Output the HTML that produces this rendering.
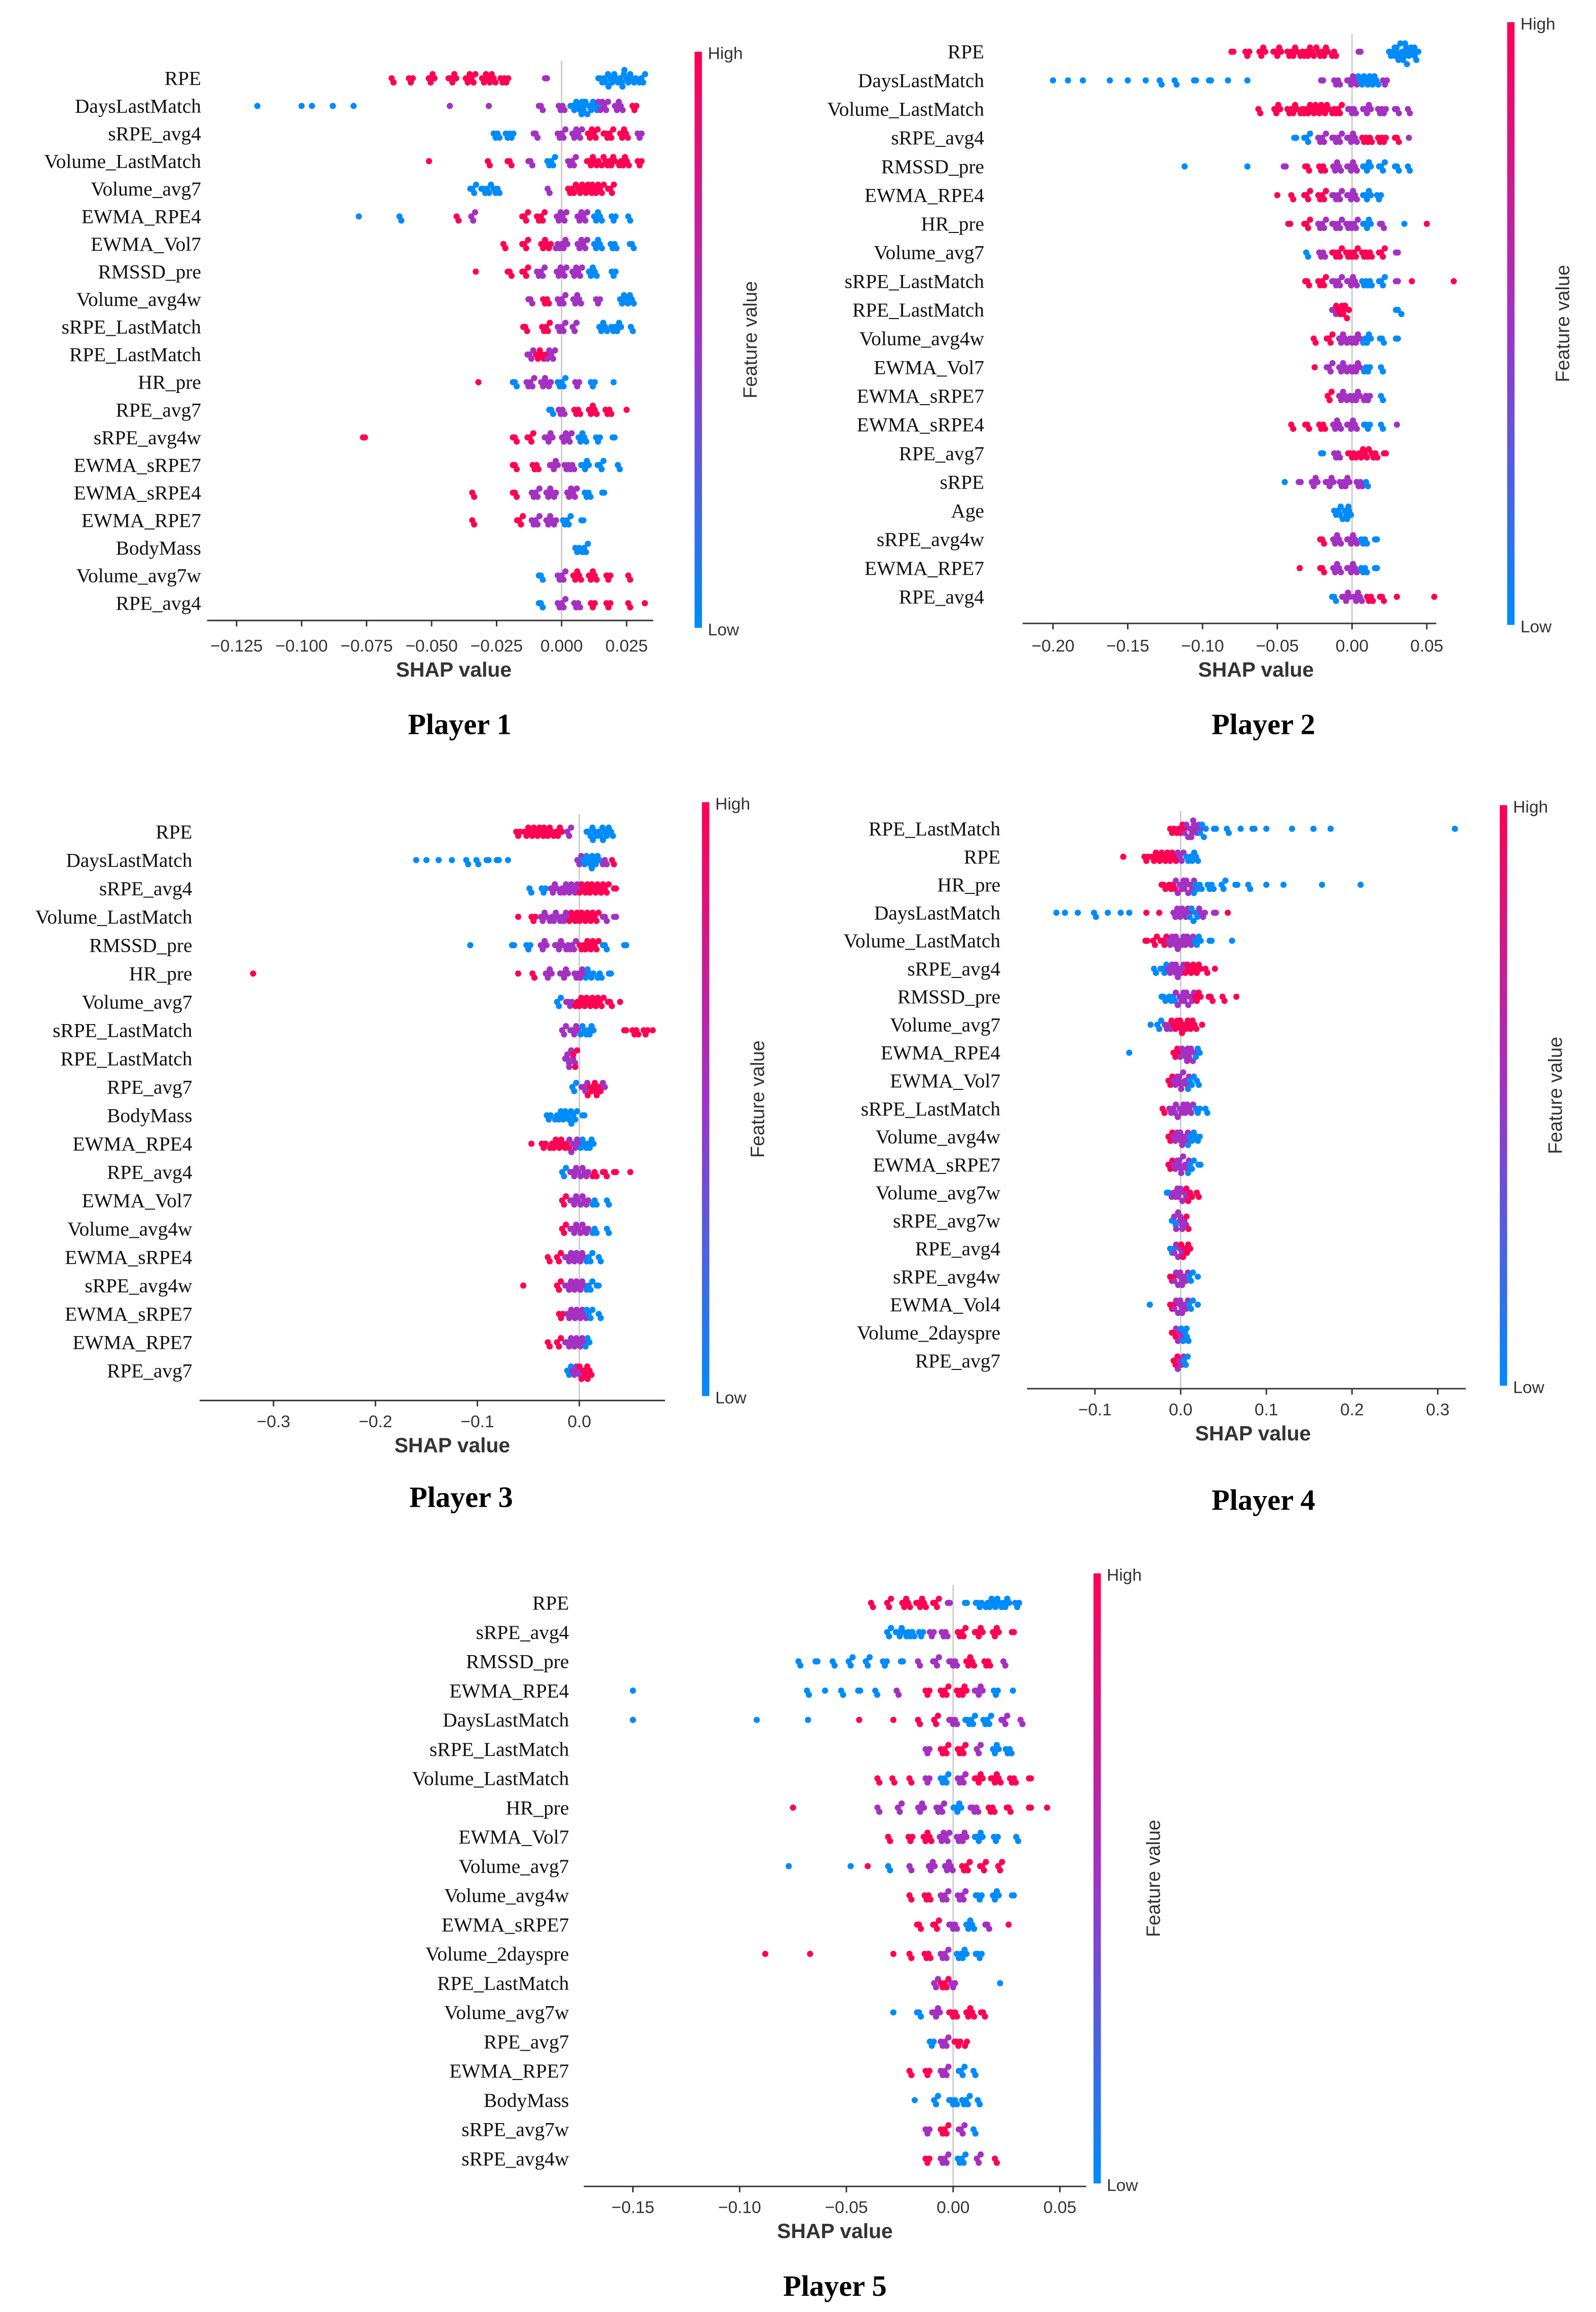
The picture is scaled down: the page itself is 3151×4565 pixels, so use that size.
<!DOCTYPE html>
<html><head><meta charset="utf-8">
<style>
html,body{margin:0;padding:0;background:#fff;}
svg{display:block;}
</style></head>
<body>
<svg id="fig" width="3151" height="4565" viewBox="0 0 1080 1565" xmlns="http://www.w3.org/2000/svg">
<defs>
<linearGradient id="cbar" x1="0" y1="0" x2="0" y2="1">
<stop offset="0" stop-color="#ff0052"/>
<stop offset="0.5" stop-color="#9e34c6"/>
<stop offset="1" stop-color="#008bfb"/>
</linearGradient>
</defs>
<rect width="1080" height="1565" fill="#fff"/>
</svg>
<script>
// ---------- DATA ----------
const p1Features = ["RPE","DaysLastMatch","sRPE_avg4","Volume_LastMatch","Volume_avg7","EWMA_RPE4","EWMA_Vol7","RMSSD_pre","Volume_avg4w","sRPE_LastMatch","RPE_LastMatch","HR_pre","RPE_avg7","sRPE_avg4w","EWMA_sRPE7","EWMA_sRPE4","EWMA_RPE7","BodyMass","Volume_avg7w","RPE_avg4"];
const p1Ticks = [-0.125,-0.1,-0.075,-0.05,-0.025,0,0.025];
const p1TickLabels = ["\u22120.125","\u22120.100","\u22120.075","\u22120.050","\u22120.025","0.000","0.025"];
const p1Values = [
"-0.065:r:2 -0.058:r:3 -0.05:r:4 -0.042:r:5 -0.035:r:6 -0.028:r:8 -0.022:r:5 -0.006:p:2 0.016:b:6 0.021:b:9 0.026:b:8 0.031:b:4",
"-0.117:b:1 -0.1:b:1 -0.096:b:1 -0.088:b:1 -0.08:b:1 -0.043:p:1 -0.028:p:1 -0.008:p:3 0.0:p:4 0.006:b:8 0.011:b:10 0.016:p:6 0.022:p:5 0.028:r:3",
"-0.025:b:4 -0.02:b:5 -0.01:p:3 0.0:p:5 0.006:p:6 0.012:r:6 0.018:r:6 0.024:r:5 0.03:p:3",
"-0.051:r:1 -0.028:r:2 -0.02:r:3 -0.012:p:3 -0.004:b:5 0.004:p:5 0.012:r:7 0.018:r:8 0.024:r:6 0.03:r:3",
"-0.034:b:4 -0.029:b:6 -0.025:b:4 -0.005:p:2 0.004:r:5 0.009:r:8 0.014:r:7 0.019:r:4",
"-0.078:b:1 -0.062:b:2 -0.04:r:2 -0.034:p:3 -0.014:r:4 -0.008:r:5 0.0:p:6 0.008:p:6 0.014:b:5 0.02:b:3 0.026:b:2",
"-0.022:r:2 -0.014:r:4 -0.006:r:6 0.0:p:7 0.008:p:6 0.014:b:5 0.02:b:4 0.027:b:3",
"-0.033:r:1 -0.02:r:3 -0.014:r:4 -0.008:p:5 0.0:p:6 0.006:p:6 0.012:b:5 0.02:b:3",
"-0.012:p:3 -0.006:r:4 0.0:p:5 0.006:p:5 0.014:p:3 0.024:b:5 0.027:b:3",
"-0.014:r:3 -0.006:r:5 0.0:p:5 0.005:p:3 0.016:b:5 0.021:b:6 0.027:b:2",
"-0.012:p:4 -0.008:r:6 -0.004:p:5",
"-0.032:r:1 -0.018:b:3 -0.012:p:5 -0.006:p:6 0.0:b:5 0.006:p:3 0.012:b:3 0.02:b:1",
"-0.004:b:3 0.0:p:4 0.006:r:4 0.012:r:5 0.018:r:4 0.025:r:1",
"-0.076:r:2 -0.018:r:3 -0.012:r:4 -0.005:p:5 0.002:p:6 0.008:b:5 0.014:b:3 0.02:b:2",
"-0.018:r:3 -0.01:r:4 -0.003:p:5 0.003:p:6 0.009:b:5 0.015:b:4 0.022:b:2",
"-0.034:r:2 -0.018:r:3 -0.01:p:5 -0.004:p:6 0.004:p:6 0.01:b:4 0.016:b:2",
"-0.034:r:2 -0.016:r:4 -0.01:p:5 -0.004:p:6 0.002:b:5 0.008:b:2",
"0.006:b:3 0.009:b:4",
"-0.008:b:3 0.0:p:5 0.006:r:5 0.012:r:5 0.018:r:3 0.026:r:2",
"-0.008:b:3 0.0:p:5 0.006:p:4 0.012:r:3 0.018:r:3 0.026:r:2 0.032:r:1"
];

const p2Features = ["RPE","DaysLastMatch","Volume_LastMatch","sRPE_avg4","RMSSD_pre","EWMA_RPE4","HR_pre","Volume_avg7","sRPE_LastMatch","RPE_LastMatch","Volume_avg4w","EWMA_Vol7","EWMA_sRPE7","EWMA_sRPE4","RPE_avg7","sRPE","Age","sRPE_avg4w","EWMA_RPE7","RPE_avg4"];
const p2Ticks = [-0.2,-0.15,-0.1,-0.05,0,0.05];
const p2TickLabels = ["\u22120.20","\u22120.15","\u22120.10","\u22120.05","0.00","0.05"];
const p2Values = [
"-0.08:r:2 -0.07:r:3 -0.06:r:4 -0.05:r:5 -0.04:r:6 -0.03:r:8 -0.02:r:7 -0.012:r:3 0.005:p:2 0.028:b:6 0.033:b:8 0.038:b:7 0.043:b:3",
"-0.2:b:1 -0.19:b:1 -0.18:b:1 -0.162:b:1 -0.15:b:1 -0.138:b:1 -0.128:b:2 -0.118:b:2 -0.105:b:2 -0.095:b:2 -0.083:b:1 -0.07:b:1 -0.02:p:2 -0.01:p:4 0.0:p:6 0.008:b:7 0.015:b:5 0.022:p:3",
"-0.062:r:2 -0.05:r:4 -0.04:r:6 -0.03:r:8 -0.02:r:8 -0.01:r:6 0.0:p:5 0.01:p:5 0.02:p:5 0.03:p:3 0.038:p:2",
"-0.038:b:2 -0.03:b:4 -0.02:p:5 -0.01:p:6 0.0:p:6 0.01:r:6 0.02:r:5 0.03:r:3 0.038:p:1",
"-0.112:b:1 -0.07:b:1 -0.045:p:2 -0.03:r:3 -0.02:r:4 -0.01:p:5 0.0:p:6 0.01:b:5 0.02:b:4 0.03:b:3 0.038:b:2",
"-0.05:r:1 -0.04:r:2 -0.03:r:4 -0.02:r:5 -0.01:p:6 0.0:p:6 0.01:b:5 0.018:b:3",
"-0.042:r:2 -0.03:r:4 -0.02:p:5 -0.01:p:6 0.0:p:7 0.01:b:5 0.02:p:3 0.035:b:1 0.05:r:1",
"-0.03:b:2 -0.02:p:4 -0.01:r:6 0.0:r:7 0.01:r:6 0.02:r:4 0.03:p:2",
"-0.03:r:3 -0.02:r:5 -0.01:p:6 0.0:p:6 0.01:b:6 0.02:b:4 0.03:p:2 0.04:r:1 0.068:r:1",
"-0.012:p:3 -0.008:r:5 -0.004:r:4 0.03:b:2 0.033:b:1",
"-0.025:r:2 -0.015:r:4 -0.006:p:5 0.002:p:6 0.01:b:5 0.02:b:3 0.03:b:2",
"-0.025:r:1 -0.015:p:4 -0.006:p:5 0.002:p:6 0.01:b:4 0.02:b:2",
"-0.015:r:3 -0.006:p:5 0.002:p:6 0.01:p:4 0.02:b:2",
"-0.04:r:2 -0.03:r:3 -0.02:r:4 -0.01:p:5 0.0:p:6 0.01:b:4 0.02:b:2 0.03:p:1",
"-0.02:b:2 -0.01:p:4 0.0:r:5 0.008:r:6 0.015:r:4 0.022:r:2",
"-0.045:b:1 -0.035:p:2 -0.025:p:4 -0.015:p:5 -0.005:p:6 0.005:p:4 0.01:b:2",
"-0.01:b:4 -0.005:b:5 -0.002:b:3",
"-0.02:r:3 -0.01:p:5 0.0:p:6 0.008:b:4 0.016:b:2",
"-0.035:r:1 -0.02:r:3 -0.01:p:5 0.0:p:6 0.008:b:4 0.016:b:2",
"-0.012:b:3 -0.004:p:5 0.004:p:5 0.012:r:4 0.02:r:3 0.03:r:1 0.055:r:1"
];

const p3Features = ["RPE","DaysLastMatch","sRPE_avg4","Volume_LastMatch","RMSSD_pre","HR_pre","Volume_avg7","sRPE_LastMatch","RPE_LastMatch","RPE_avg7","BodyMass","EWMA_RPE4","RPE_avg4","EWMA_Vol7","Volume_avg4w","EWMA_sRPE4","sRPE_avg4w","EWMA_sRPE7","EWMA_RPE7","RPE_avg7"];
const p3Ticks = [-0.3,-0.2,-0.1,0];
const p3TickLabels = ["\u22120.3","\u22120.2","\u22120.1","0.0"];
const p3Values = [
"-0.06:r:3 -0.05:r:5 -0.04:r:6 -0.03:r:6 -0.02:r:4 -0.01:p:3 0.01:b:4 0.018:b:6 0.026:b:4 0.032:b:2",
"-0.16:b:1 -0.15:b:1 -0.138:b:1 -0.125:b:1 -0.11:b:2 -0.1:b:2 -0.09:b:2 -0.08:b:2 -0.07:b:1 0.0:p:3 0.008:b:6 0.016:b:5 0.025:p:3 0.033:r:2",
"-0.048:b:2 -0.035:b:3 -0.025:p:4 -0.015:p:5 -0.005:p:6 0.005:r:6 0.015:r:6 0.025:r:5 0.035:r:2",
"-0.06:r:1 -0.045:r:3 -0.035:p:4 -0.025:p:5 -0.015:p:5 -0.005:r:6 0.005:r:6 0.015:r:5 0.025:p:3 0.035:p:2",
"-0.107:b:1 -0.065:b:2 -0.05:b:3 -0.035:p:4 -0.02:p:5 -0.008:p:6 0.005:r:6 0.015:r:5 0.025:b:3 0.045:b:2",
"-0.32:r:1 -0.06:r:1 -0.045:r:2 -0.03:p:4 -0.015:p:5 0.0:p:6 0.01:b:5 0.02:b:3 0.03:b:2",
"-0.02:b:3 -0.01:p:4 0.0:r:5 0.01:r:6 0.02:r:5 0.03:r:3 0.04:r:1",
"-0.015:p:3 -0.005:p:5 0.005:b:5 0.012:b:3 0.045:r:2 0.055:r:4 0.065:r:3 0.072:r:1",
"-0.012:p:3 -0.008:p:5 -0.004:r:3",
"-0.005:b:3 0.005:p:4 0.012:r:5 0.018:r:4 0.024:p:2",
"-0.03:b:3 -0.02:b:5 -0.012:b:5 -0.005:b:4 0.004:b:2",
"-0.047:r:1 -0.035:r:3 -0.025:r:5 -0.015:r:6 -0.005:p:6 0.005:b:5 0.012:b:3",
"-0.015:b:3 -0.005:p:5 0.005:p:5 0.015:r:3 0.025:r:3 0.035:r:2 0.05:r:1",
"-0.015:r:3 -0.005:p:5 0.005:p:5 0.015:b:3 0.028:b:2",
"-0.015:r:3 -0.005:p:5 0.005:p:5 0.015:b:3 0.028:b:2",
"-0.03:r:2 -0.02:r:3 -0.01:p:5 0.0:p:6 0.01:b:4 0.02:b:2",
"-0.055:r:1 -0.02:r:3 -0.01:p:5 0.0:p:6 0.01:b:4 0.018:b:2",
"-0.018:r:3 -0.008:p:5 0.002:p:6 0.01:b:4 0.02:b:2",
"-0.03:r:2 -0.02:r:3 -0.01:p:5 0.0:p:6 0.008:b:3",
"-0.01:b:3 -0.003:p:5 0.004:r:5 0.01:r:3"
];

const p4Features = ["RPE_LastMatch","RPE","HR_pre","DaysLastMatch","Volume_LastMatch","sRPE_avg4","RMSSD_pre","Volume_avg7","EWMA_RPE4","EWMA_Vol7","sRPE_LastMatch","Volume_avg4w","EWMA_sRPE7","Volume_avg7w","sRPE_avg7w","RPE_avg4","sRPE_avg4w","EWMA_Vol4","Volume_2dayspre","RPE_avg7"];
const p4Ticks = [-0.1,0,0.1,0.2,0.3];
const p4TickLabels = ["\u22120.1","0.0","0.1","0.2","0.3"];
const p4Values = [
"-0.01:r:3 0.0:r:5 0.01:p:6 0.018:p:6 0.026:b:4 0.04:b:2 0.055:b:2 0.07:b:1 0.085:b:2 0.1:b:1 0.13:b:1 0.155:b:1 0.175:b:1 0.32:b:1",
"-0.067:r:1 -0.04:r:3 -0.03:r:4 -0.02:r:5 -0.01:r:5 0.0:p:4 0.01:b:4 0.018:b:3",
"-0.02:r:3 -0.01:r:4 0.0:p:6 0.01:p:6 0.02:b:5 0.035:b:4 0.05:b:3 0.065:b:2 0.08:b:2 0.1:b:1 0.12:b:1 0.165:b:1 0.21:b:1",
"-0.145:b:1 -0.135:b:1 -0.12:b:1 -0.1:b:2 -0.085:b:1 -0.07:b:1 -0.06:b:1 -0.04:r:1 -0.025:r:1 -0.005:p:4 0.005:p:6 0.015:b:5 0.025:p:4 0.04:p:2 0.055:r:1",
"-0.04:r:2 -0.03:r:3 -0.02:r:4 -0.01:p:5 0.0:p:6 0.01:p:5 0.02:b:4 0.035:b:2 0.06:b:1",
"-0.03:b:2 -0.02:b:4 -0.01:p:5 0.0:p:6 0.01:r:5 0.02:r:4 0.03:r:2 0.04:r:1",
"-0.02:b:3 -0.01:b:4 0.0:p:6 0.01:p:6 0.02:r:4 0.035:r:3 0.05:r:2 0.065:r:1",
"-0.035:b:1 -0.025:b:3 -0.015:p:4 -0.005:r:6 0.005:r:6 0.015:r:4 0.025:r:1",
"-0.06:b:1 -0.005:r:4 0.005:p:6 0.012:p:5 0.02:b:3",
"-0.012:r:3 -0.004:p:5 0.004:p:6 0.012:b:4 0.02:b:2",
"-0.02:r:2 -0.01:p:4 0.0:p:6 0.01:p:5 0.02:b:3 0.03:b:2",
"-0.012:r:3 -0.004:p:5 0.004:p:5 0.012:b:4 0.02:b:3",
"-0.012:r:3 -0.004:p:5 0.004:p:6 0.012:b:4 0.022:b:2",
"-0.015:b:2 -0.006:p:5 0.002:p:5 0.01:r:4 0.02:r:2",
"-0.008:b:3 -0.003:p:5 0.003:p:4 0.008:r:2",
"-0.01:b:3 -0.003:p:5 0.004:r:4 0.01:r:2",
"-0.01:r:3 -0.003:p:5 0.004:p:5 0.012:b:3 0.02:b:1",
"-0.036:b:1 -0.01:r:3 -0.003:p:5 0.004:p:5 0.012:b:3 0.02:b:1",
"-0.008:r:3 -0.002:p:4 0.004:b:4 0.008:b:2",
"-0.006:r:3 0.0:p:4 0.006:b:3"
];

const p5Features = ["RPE","sRPE_avg4","RMSSD_pre","EWMA_RPE4","DaysLastMatch","sRPE_LastMatch","Volume_LastMatch","HR_pre","EWMA_Vol7","Volume_avg7","Volume_avg4w","EWMA_sRPE7","Volume_2dayspre","RPE_LastMatch","Volume_avg7w","RPE_avg7","EWMA_RPE7","BodyMass","sRPE_avg7w","sRPE_avg4w"];
const p5Ticks = [-0.15,-0.1,-0.05,0,0.05];
const p5TickLabels = ["\u22120.15","\u22120.10","\u22120.05","0.00","0.05"];
const p5Values = [
"-0.038:r:2 -0.03:r:3 -0.022:r:5 -0.015:r:6 -0.008:r:4 -0.002:p:2 0.006:b:2 0.012:b:4 0.018:b:7 0.024:b:6 0.03:b:3",
"-0.03:b:3 -0.025:b:5 -0.02:b:5 -0.015:b:3 -0.01:p:3 -0.004:p:4 0.004:r:5 0.012:r:5 0.02:r:4 0.028:r:2",
"-0.072:b:2 -0.064:b:2 -0.056:b:2 -0.048:b:3 -0.04:b:3 -0.032:b:3 -0.024:b:2 -0.016:p:2 -0.008:p:4 0.0:p:5 0.008:r:5 0.016:r:4 0.024:p:2",
"-0.15:b:1 -0.068:b:2 -0.06:b:1 -0.052:b:2 -0.044:b:2 -0.036:b:2 -0.026:p:2 -0.012:r:3 -0.004:r:5 0.004:r:6 0.012:p:5 0.02:b:3 0.028:b:1",
"-0.15:b:1 -0.092:b:1 -0.068:b:1 -0.044:r:1 -0.028:r:1 -0.016:r:2 -0.008:r:3 0.0:p:5 0.008:b:6 0.016:b:5 0.024:p:4 0.032:p:2",
"-0.012:p:3 -0.004:r:5 0.004:r:5 0.012:p:3 0.02:b:4 0.026:b:4",
"-0.035:r:2 -0.028:r:2 -0.02:r:2 -0.012:p:3 -0.004:b:5 0.004:p:5 0.012:r:5 0.02:r:6 0.028:r:4 0.036:r:2",
"-0.075:r:1 -0.035:p:2 -0.025:p:3 -0.015:p:4 -0.006:p:5 0.002:b:5 0.01:p:5 0.018:r:4 0.026:r:3 0.036:r:2 0.044:r:1",
"-0.03:r:2 -0.02:r:3 -0.012:r:5 -0.004:p:6 0.004:p:6 0.012:b:5 0.02:b:3 0.03:b:2",
"-0.077:b:1 -0.048:b:1 -0.04:r:1 -0.03:b:2 -0.02:p:2 -0.01:p:4 -0.002:p:5 0.006:r:5 0.014:r:4 0.022:r:3",
"-0.02:r:2 -0.012:r:4 -0.004:p:5 0.004:p:5 0.012:b:4 0.02:b:4 0.028:b:2",
"-0.016:r:3 -0.008:r:4 0.0:p:5 0.008:b:5 0.016:p:3 0.026:r:1",
"-0.088:r:1 -0.067:r:1 -0.028:r:1 -0.02:r:2 -0.012:r:4 -0.004:p:5 0.004:b:6 0.012:b:4",
"-0.008:p:3 -0.004:r:5 0.0:p:3 0.022:b:1",
"-0.028:b:1 -0.016:b:3 -0.008:p:5 0.0:r:5 0.008:r:5 0.014:r:3",
"-0.01:b:3 -0.004:p:5 0.002:r:4 0.006:r:2",
"-0.02:r:2 -0.012:r:3 -0.004:p:5 0.004:b:4 0.01:b:2",
"-0.018:b:1 -0.008:b:3 0.0:b:5 0.006:b:5 0.012:b:2",
"-0.012:p:3 -0.004:r:5 0.004:p:4 0.01:b:2",
"-0.012:r:3 -0.004:p:5 0.004:b:5 0.012:p:3 0.02:r:2"
];

// ---------- LAYOUT ----------
const panels = [
 {id:"player-1", title:"Player 1", feats:p1Features, vals:p1Values, ticks:p1Ticks, tickLabels:p1TickLabels,
  zeroX:380, ppu:1760, xl:140, xr:442, rowTop:53, rowStep:18.7, labelX:136, axisY:420, tickY:437, shapX:307, shapY:453,
  cbX:470, cbTop:35, cbBot:425, fvX:512, titleX:311, titleY:497},
 {id:"player-2", title:"Player 2", feats:p2Features, vals:p2Values, ticks:p2Ticks, tickLabels:p2TickLabels,
  zeroX:915, ppu:1012, xl:692, xr:972, rowTop:35, rowStep:19.42, labelX:666, axisY:422, tickY:437, shapX:850, shapY:453,
  cbX:1020, cbTop:15, cbBot:423, fvX:1062, titleX:855, titleY:497},
 {id:"player-3", title:"Player 3", feats:p3Features, vals:p3Values, ticks:p3Ticks, tickLabels:p3TickLabels,
  zeroX:392, ppu:690, xl:135, xr:450, rowTop:563, rowStep:19.2, labelX:130, axisY:948, tickY:962, shapX:306, shapY:978,
  cbX:475, cbTop:543, cbBot:945, fvX:517, titleX:312, titleY:1020},
 {id:"player-4", title:"Player 4", feats:p4Features, vals:p4Values, ticks:p4Ticks, tickLabels:p4TickLabels,
  zeroX:799, ppu:580, xl:695, xr:992, rowTop:561, rowStep:18.95, labelX:677, axisY:940, tickY:954, shapX:848, shapY:970,
  cbX:1015, cbTop:545, cbBot:938, fvX:1057, titleX:855, titleY:1022},
 {id:"player-5", title:"Player 5", feats:p5Features, vals:p5Values, ticks:p5Ticks, tickLabels:p5TickLabels,
  zeroX:645, ppu:1445, xl:395, xr:735, rowTop:1085, rowStep:19.8, labelX:385, axisY:1480, tickY:1494, shapX:565, shapY:1510,
  cbX:740, cbTop:1065, cbBot:1478, fvX:785, titleX:565, titleY:1554}
];

const NS = "http://www.w3.org/2000/svg";
const svg = document.getElementById("fig");
const colorMap = {b:"#008bfb", p:"#a431c2", r:"#ff0052"};
function mk(tag, attrs, parent){
  const e = document.createElementNS(NS, tag);
  for (const k in attrs) e.setAttribute(k, attrs[k]);
  parent.appendChild(e);
  return e;
}

panels.forEach(P => {
  const g = mk("g", {}, svg);
  
  
  const xs = v => P.zeroX + v * P.ppu;
  const ys = i => P.rowTop + i * P.rowStep;

  const zl = mk("line", {x1:xs(0), x2:xs(0), y1:ys(0)-12, y2:P.axisY, stroke:"#cccccc", "stroke-width":1}, g);
  
  

  P.feats.forEach((f, i) => {
    const t = mk("text", {x:P.labelX, y:ys(i)+4.5, "text-anchor":"end", "font-family":"'Liberation Serif', serif", "font-size":13.5, fill:"#111"}, g);
    t.textContent = f;
    
    

    const row = mk("g", {}, g);
    
    
    const bins = {};
    P.vals[i].trim().split(/\s+/).forEach(tok => {
      const [v, c, n] = tok.split(":");
      const cnt0 = +n;
      for (let k = 0; k < cnt0; k++) {
        const px = xs(+v) + (k - (cnt0 - 1) / 2) * 1.3;
        const b = Math.round(px / 3.6);
        const cnt = bins[b] || 0; bins[b] = cnt + 1;
        const off = ((cnt + 1) >> 1) * 2.8 * (cnt % 2 ? 1 : -1);
        const d = mk("circle", {cx:px, cy:ys(i) + off, r:2.1, fill:colorMap[c]}, row);
        
        
      }
    });
  });

  const ax = mk("line", {x1:P.xl, x2:P.xr, y1:P.axisY, y2:P.axisY, stroke:"#333", "stroke-width":1}, g);
  
  
  P.ticks.forEach((tv, k) => {
    const tk = mk("line", {x1:xs(tv), x2:xs(tv), y1:P.axisY, y2:P.axisY+4, stroke:"#333", "stroke-width":1}, g);
    
    
    const tl = mk("text", {x:xs(tv), y:P.tickY+4, "text-anchor":"middle", "font-family":"'Liberation Sans', sans-serif", "font-size":11.5, fill:"#333"}, g);
    tl.textContent = P.tickLabels[k];
    
    
  });
  const st = mk("text", {x:P.shapX, y:P.shapY+5, "text-anchor":"middle", "font-family":"'Liberation Sans', sans-serif", "font-size":14, "font-weight":"bold", fill:"#333"}, g);
  st.textContent = "SHAP value";
  
  

  const cb = mk("rect", {x:P.cbX, y:P.cbTop, width:5, height:P.cbBot-P.cbTop, fill:"url(#cbar)"}, g);
  
  
  const hi = mk("text", {x:P.cbX+9, y:P.cbTop+5, "font-family":"'Liberation Sans', sans-serif", "font-size":11.5, fill:"#333"}, g);
  hi.textContent = "High";
  
  
  const lo = mk("text", {x:P.cbX+9, y:P.cbBot+5, "font-family":"'Liberation Sans', sans-serif", "font-size":11.5, fill:"#333"}, g);
  lo.textContent = "Low";
  
  
  const fy = (P.cbTop + P.cbBot) / 2;
  const fv = mk("text", {x:P.fvX, y:fy, "text-anchor":"middle", transform:"rotate(-90 "+P.fvX+" "+fy+")", "font-family":"'Liberation Sans', sans-serif", "font-size":13, fill:"#333"}, g);
  fv.textContent = "Feature value";
  
  

  const tt = mk("text", {x:P.titleX, y:P.titleY, "text-anchor":"middle", "font-family":"'Liberation Serif', serif", "font-size":20, "font-weight":"bold", fill:"#000"}, g);
  tt.textContent = P.title;
  
  
});
</script>
</body></html>
